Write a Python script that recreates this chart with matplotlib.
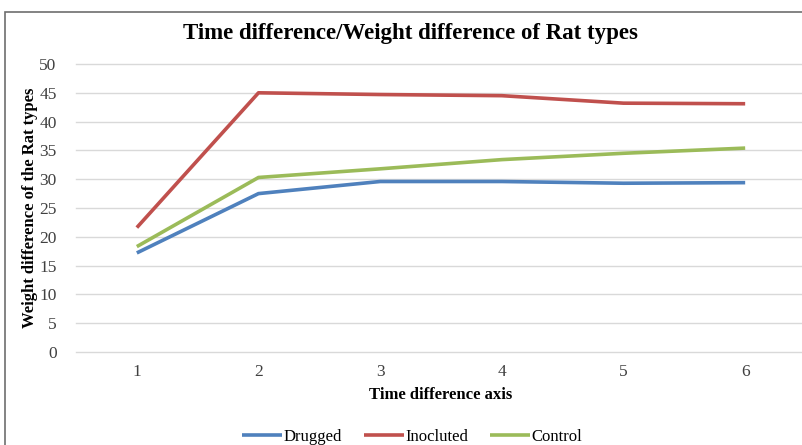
import matplotlib
matplotlib.use("Agg")
import matplotlib.pyplot as plt
from matplotlib.patches import Rectangle

time_steps = [1, 2, 3, 4, 5, 6]
drugged = [17.2, 27.5, 29.6, 29.6, 29.3, 29.4]
inocluted = [21.6, 45.0, 44.7, 44.5, 43.2, 43.1]
control = [18.3, 30.3, 31.8, 33.4, 34.5, 35.4]

series = [
    ("Drugged", drugged, "#4F81BD"),
    ("Inocluted", inocluted, "#C0504D"),
    ("Control", control, "#9BBB59"),
]

plt.rcParams["font.family"] = ["Liberation Serif", "DejaVu Serif"]

W, H = 803, 445
fig = plt.figure(figsize=(W / 100, H / 100), dpi=100)

# outer chart border (cropped on right/bottom like the original)
fig.patches.append(Rectangle((5 / W, -0.1), 1.2, 1.1 - 12 / H,
                             transform=fig.transFigure, fill=False,
                             edgecolor="#6e6e6e", linewidth=1.2))

ax = fig.add_axes([76 / W, 93 / H, 730 / W, 288 / H])

for name, vals, col in series:
    ax.plot(time_steps, vals, color=col, linewidth=2.6, label=name,
            solid_capstyle="butt")

ax.set_xlim(0.5, 6.5)
ax.set_ylim(0, 50)
ax.set_yticks(range(0, 51, 5))
ax.set_xticks(time_steps)
ax.grid(axis="y", color="#d9d9d9", linewidth=1.0)
for gl in ax.get_ygridlines():
    gl.set_clip_on(False)
ax.set_axisbelow(True)
for s in ax.spines.values():
    s.set_visible(False)
ax.tick_params(length=0, labelsize=12.5, labelcolor="#404040")
ax.tick_params(axis="y", pad=14)
ax.tick_params(axis="x", pad=9)

ax.set_xlabel("Time difference axis", fontsize=12, fontweight="bold", labelpad=5)
ax.set_ylabel("Weight difference of the Rat types", fontsize=12,
              fontweight="bold", labelpad=1)

fig.text(410 / W, 1 - 33 / H, "Time difference/Weight difference of Rat types",
         ha="center", va="center", fontsize=16.5, fontweight="bold")

fig.legend(loc="center", bbox_to_anchor=(412 / W, 1 - 437 / H), ncol=3,
           frameon=False, fontsize=12, handlelength=2.4, handletextpad=0.1,
           columnspacing=1.3)

fig.savefig("out.png", dpi=100)
